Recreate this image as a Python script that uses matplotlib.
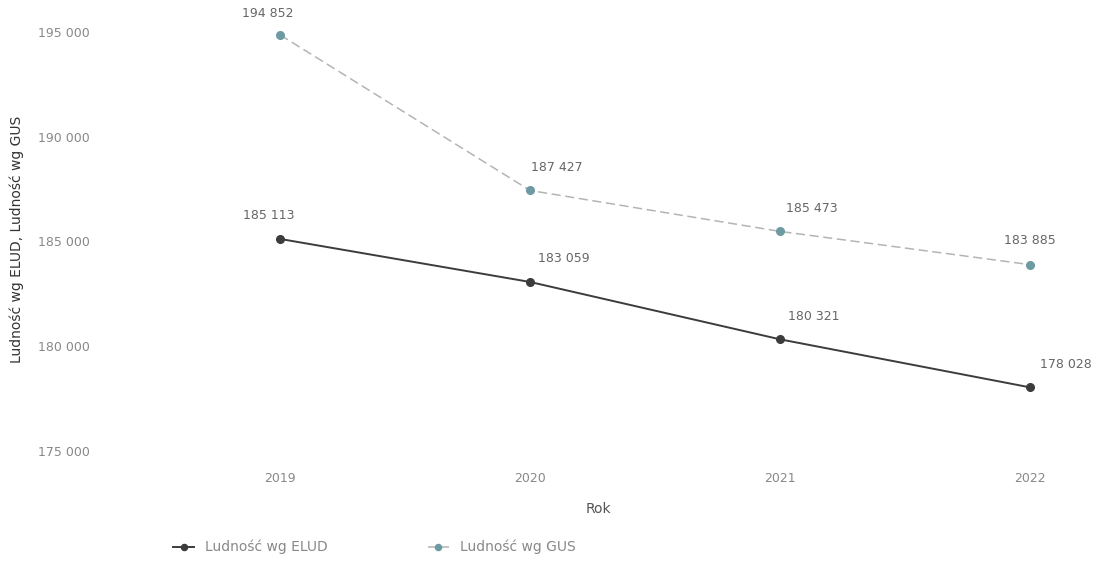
import matplotlib.pyplot as plt

# dane
lata = ['2019', '2020', '2021', '2022']
ludnosc_elud = [185113, 183059, 180321, 178028]
ludnosc_gus = [194852, 187427, 185473, 183885]
y_ticks = [175000, 180000, 185000, 190000, 195000]

def fmt(v):
    return f'{v:,}'.replace(',', ' ')

plt.rcParams['font.family'] = ['DejaVu Sans']

fig = plt.figure(figsize=(11.09, 5.67), dpi=100)
ax = fig.add_axes([0.097, 0.189, 0.886, 0.776])

x = list(range(len(lata)))
ax.plot(x, ludnosc_elud, color='#3c3c3c', lw=1.4, marker='o', ms=5.5,
        markerfacecolor='#3c3c3c', markeredgecolor='#3c3c3c', label='Ludność wg ELUD')
ax.plot(x, ludnosc_gus, color='#b4b4b4', lw=1.1, ls=(0, (6, 3)), marker='o', ms=5.5,
        markerfacecolor='#6e9aa4', markeredgecolor='#6e9aa4', label='Ludność wg GUS')

# etykiety wartości (przesunięcie w punktach)
off_elud = [(-8, 12), (24, 12), (24, 12), (26, 12)]
off_gus = [(-9, 11), (19, 12), (23, 12), (0, 13)]
for xi, v, o in zip(x, ludnosc_elud, off_elud):
    ax.annotate(fmt(v), (xi, v), xytext=o, textcoords='offset points',
                ha='center', va='bottom', fontsize=9, color='#666666')
for xi, v, o in zip(x, ludnosc_gus, off_gus):
    ax.annotate(fmt(v), (xi, v), xytext=o, textcoords='offset points',
                ha='center', va='bottom', fontsize=9, color='#666666')

ax.set_xlim(-0.69, 3.24)
ax.set_ylim(174570, 195570)
ax.set_xticks(x)
ax.set_xticklabels(lata)
ax.set_yticks(y_ticks)
ax.set_yticklabels([fmt(t) for t in y_ticks])
ax.tick_params(length=0, labelsize=9, labelcolor='#888888')
ax.tick_params(axis='y', pad=13)
ax.tick_params(axis='x', pad=9)
for s in ax.spines.values():
    s.set_visible(False)

ax.set_xlabel('Rok', fontsize=10, color='#555555', labelpad=12)
ax.set_ylabel('Ludność wg ELUD, Ludność wg GUS', fontsize=10, color='#333333', labelpad=10)

fig.legend(loc='lower left', bbox_to_anchor=(0.145, 0.0), ncol=2, frameon=False,
           fontsize=10, labelcolor='#888888', handlelength=1.5, columnspacing=7.2,
           markerscale=0.8)

plt.savefig('out.png', dpi=100)
